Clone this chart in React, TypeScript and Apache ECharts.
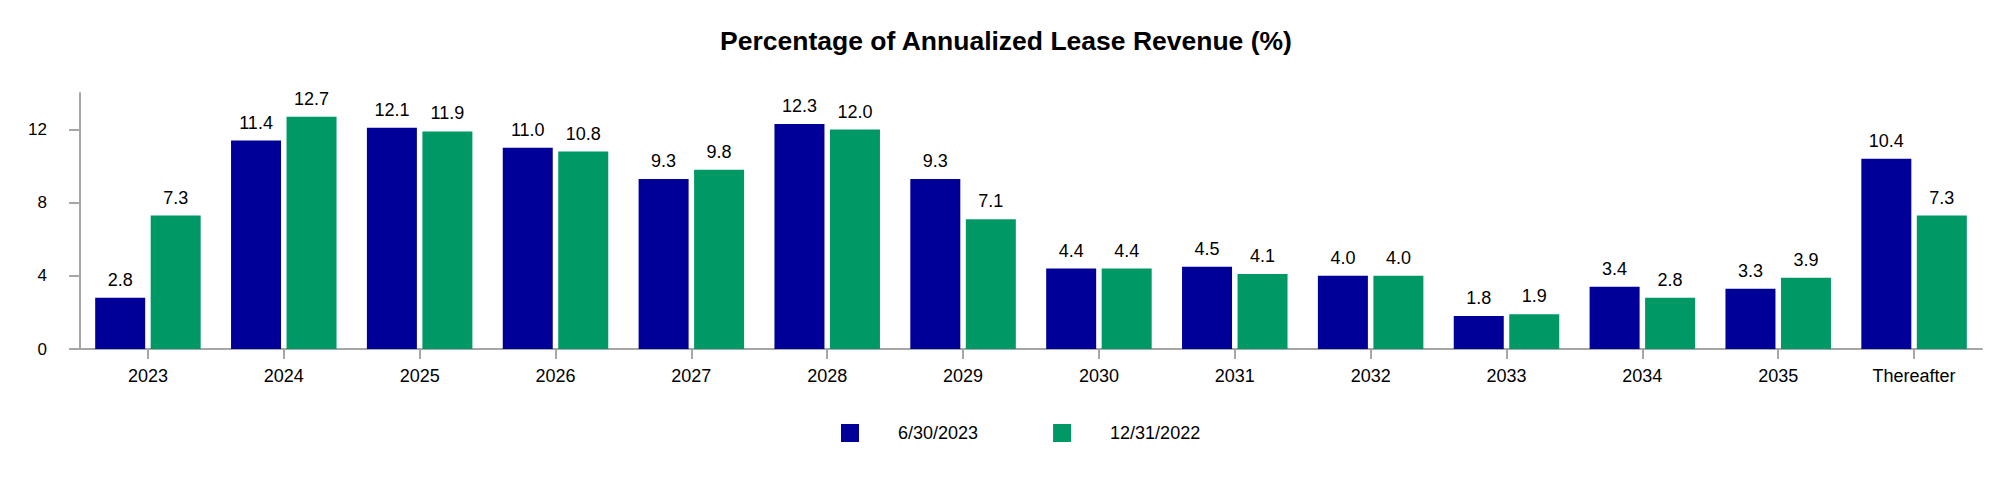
import React, { useEffect, useRef } from "react";
import * as echarts from "echarts";

const categories = ["2023", "2024", "2025", "2026", "2027", "2028", "2029", "2030", "2031", "2032", "2033", "2034", "2035", "Thereafter"];
const seriesNames = ["6/30/2023", "12/31/2022"];
const values2023 = [2.8, 11.4, 12.1, 11.0, 9.3, 12.3, 9.3, 4.4, 4.5, 4.0, 1.8, 3.4, 3.3, 10.4];
const values2022 = [7.3, 12.7, 11.9, 10.8, 9.8, 12.0, 7.1, 4.4, 4.1, 4.0, 1.9, 2.8, 3.9, 7.3];
const yTicks = [0, 4, 8, 12];
const titleText = "Percentage of Annualized Lease Revenue (%)";

const FONT = "'Liberation Sans', Arial, Helvetica, sans-serif";
const AXIS_COLOR = "#A6A6A6";
const BLUE = "#000099";
const GREEN = "#009966";

export default function App() {
  const ref = useRef<HTMLDivElement>(null);

  useEffect(() => {
    document.body.style.margin = "0";
    if (!ref.current) return;
    const chart = echarts.init(ref.current, undefined, { renderer: "svg" });
    const label = {
      show: true,
      position: "top",
      distance: 9,
      color: "#000",
      fontSize: 18,
      fontFamily: FONT,
      formatter: (p: any) => Number(p.value).toFixed(1),
    };
    chart.setOption({
      animation: false,
      backgroundColor: "#fff",
      textStyle: { fontFamily: FONT },
      title: {
        text: titleText,
        left: "center",
        top: 27,
        padding: 0,
        textStyle: { fontSize: 26.5, fontWeight: "bold", color: "#000", fontFamily: FONT },
      },
      legend: {
        left: 841,
        top: 424,
        padding: 0,
        itemWidth: 18,
        itemHeight: 18,
        itemGap: 75,
        icon: "rect",
        data: seriesNames,
        textStyle: { fontSize: 18, color: "#000", fontFamily: FONT, padding: [0, 0, 0, 34] },
      },
      grid: { left: 80, right: 30, top: 93, bottom: 135, containLabel: false },
      xAxis: {
        type: "category",
        data: categories,
        axisLine: { show: true, lineStyle: { color: AXIS_COLOR, width: 2 } },
        axisTick: { show: true, alignWithLabel: true, length: 10, lineStyle: { color: AXIS_COLOR, width: 2 } },
        axisLabel: { color: "#000", fontSize: 18, margin: 18, fontFamily: FONT, interval: 0 },
        splitLine: { show: false },
      },
      yAxis: {
        type: "value",
        min: 0,
        max: 14,
        interval: 2,
        axisLine: { show: true, lineStyle: { color: AXIS_COLOR, width: 2 } },
        axisTick: { show: true, length: 11, customValues: yTicks, lineStyle: { color: AXIS_COLOR, width: 2 } },
        axisLabel: { color: "#000", fontSize: 17, margin: 33, fontFamily: FONT, customValues: yTicks },
        splitLine: { show: false },
      },
      series: [
        {
          name: seriesNames[0],
          type: "bar",
          data: values2023,
          barWidth: 50,
          barGap: "11%",
          itemStyle: { color: BLUE },
          label,
        },
        {
          name: seriesNames[1],
          type: "bar",
          data: values2022,
          barWidth: 50,
          barGap: "11%",
          itemStyle: { color: GREEN },
          label,
        },
      ],
    });
    return () => chart.dispose();
  }, []);

  return <div ref={ref} style={{ width: 2012, height: 484 }} />;
}
